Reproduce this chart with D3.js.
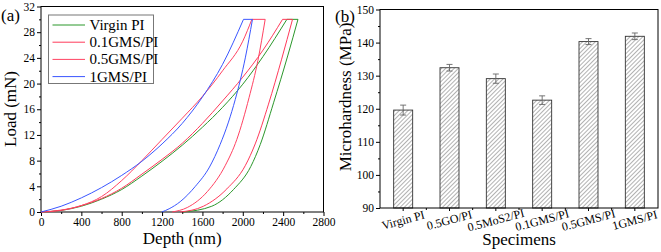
<!DOCTYPE html>
<html>
<head>
<meta charset="utf-8">
<script src="https://cdn.jsdelivr.net/npm/d3@7/dist/d3.min.js"></script>
<style>
body { margin: 0; background: #fff; }
text { font-family: "Liberation Serif", "Times New Roman", serif; fill: #000; }
</style>
</head>
<body>
<svg id="chart" width="661" height="252"></svg>
<script>
// ---- panel (a): load-depth curves, [depth nm, load mN]
var virginLoading = [[0,0],[200,0.25],[400,0.9],[600,2.0],[800,3.5],[1000,5.6],[1200,7.9],[1400,10.4],[1600,13.2],[1800,16.3],[2000,19.9],[2200,24.2],[2437,30]];
var virginHold = [[2437,30],[2547,30]];
var virginUnloading = [[1410,0],[1693,0.9],[1908,3.5],[2080,7.1],[2173,10.5],[2305,17.0],[2445,24.3],[2547,30]];

var gms01Loading = [[0,0],[200,0.25],[400,1.0],[600,2.1],[800,3.7],[1000,5.9],[1200,8.2],[1400,10.7],[1600,13.8],[1800,17.3],[2000,21.0],[2200,25.2],[2394,30]];
var gms01Hold = [[2394,30],[2493,30]];
var gms01Unloading = [[1380,0],[1610,0.9],[1842,3.6],[2024,7.2],[2123,10.6],[2255,16.8],[2385,23.8],[2493,30]];

var gms05Loading = [[0,0],[200,0.3],[400,1.0],[600,2.4],[800,4.9],[1000,8.0],[1200,11.3],[1400,14.6],[1600,18.0],[1800,22.0],[2000,26.6],[2090,30]];
var gms05Hold = [[2090,30],[2222,30]];
var gms05Unloading = [[1300,0],[1450,0.7],[1650,3.2],[1825,7.2],[1941,11.3],[2062,17.8],[2150,23.6],[2222,30]];

var gms1Loading = [[0,0],[200,0.9],[400,2.2],[600,3.8],[800,5.7],[1000,7.9],[1200,10.6],[1400,13.8],[1600,17.9],[1800,23.0],[2007,30]];
var gms1Hold = [[2007,30],[2096,30]];
var gms1Unloading = [[1197,0],[1270,0.5],[1379,1.6],[1530,4],[1670,7],[1775,10.5],[1858,14.0],[1925,17.5],[2025,24],[2096,30]];

var curveNames = ["Virgin PI", "0.1GMS/PI", "0.5GMS/PI", "1GMS/PI"];
var depthTicks = [0, 400, 800, 1200, 1600, 2000, 2400, 2800];
var loadTicks = [0, 4, 8, 12, 16, 20, 24, 28, 32];

// ---- panel (b): microhardness bars
var specimens = ["Virgin PI", "0.5GO/PI", "0.5MoS2/PI", "0.1GMS/PI", "0.5GMS/PI", "1GMS/PI"];
var hardness = [119.6, 132.4, 129.1, 122.6, 140.3, 141.9];
var hardnessErr = [1.5, 1.0, 1.4, 1.3, 0.9, 1.0];
var hardnessTicks = [90, 100, 110, 120, 130, 140, 150];

var FONT = "Liberation Serif";
var svg = d3.select("#chart");

var series = [
    {name: curveNames[0], color: "#2b972b", parts: [virginLoading, virginHold, virginUnloading]},
    {name: curveNames[1], color: "#ff3a5a", parts: [gms01Loading, gms01Hold, gms01Unloading]},
    {name: curveNames[2], color: "#ff4262", parts: [gms05Loading, gms05Hold, gms05Unloading]},
    {name: curveNames[3], color: "#3a56ff", parts: [gms1Loading, gms1Hold, gms1Unloading]}
];

function styleAxis(g) {
    g.attr("font-family", FONT);
    g.select(".domain").remove();
    g.selectAll("text").attr("font-size", 11.5).attr("fill", "#000").style("font-family", FONT);
}

// ===== panel (a)
var xA = d3.scaleLinear().domain([0, 2800]).range([41, 323.5]);
var yA = d3.scaleLinear().domain([0, 32]).range([212, 6.5]);

var gA = svg.append("g");

// minor ticks
gA.append("g")
    .attr("transform", "translate(0,212)")
    .call(d3.axisBottom(xA).tickValues(d3.range(200, 2800, 400)).tickSize(2).tickFormat(""))
    .call(styleAxis);
gA.append("g")
    .attr("transform", "translate(41,0)")
    .call(d3.axisLeft(yA).tickValues(d3.range(2, 32, 4)).tickSize(2).tickFormat(""))
    .call(styleAxis);

gA.append("g")
    .attr("transform", "translate(0,212)")
    .call(d3.axisBottom(xA).tickValues(depthTicks).tickSize(4).tickPadding(2).tickFormat(d3.format("d")))
    .call(styleAxis);

gA.append("g")
    .attr("transform", "translate(41,0)")
    .call(d3.axisLeft(yA).tickValues(loadTicks).tickSize(4).tickPadding(2))
    .call(styleAxis);

gA.append("rect")
    .attr("x", 41).attr("y", 6.5)
    .attr("width", 323.5 - 41).attr("height", 212 - 6.5)
    .attr("fill", "none").attr("stroke", "#000").attr("stroke-width", 1);

var lineA = d3.line()
    .x(function (d) { return xA(d[0]); })
    .y(function (d) { return yA(d[1]); })
    .curve(d3.curveMonotoneX);

series.forEach(function (s) {
    s.parts.forEach(function (p) {
        gA.append("path")
            .attr("d", lineA(p))
            .attr("fill", "none")
            .attr("stroke", s.color)
            .attr("stroke-width", 1);
    });
});

// legend
var leg = gA.append("g");
leg.append("rect")
    .attr("x", 48.5).attr("y", 15)
    .attr("width", 105).attr("height", 68.5)
    .attr("fill", "#fff").attr("stroke", "#777").attr("stroke-width", 1);
series.forEach(function (s, i) {
    var yy = 25 + i * 17.2;
    leg.append("line")
        .attr("x1", 52.5).attr("x2", 85)
        .attr("y1", yy).attr("y2", yy)
        .attr("stroke", s.color).attr("stroke-width", 1);
    leg.append("text")
        .attr("x", 89.5).attr("y", yy + 5)
        .attr("font-size", 15)
        .text(s.name);
});

gA.append("text")
    .attr("x", 1).attr("y", 21)
    .attr("font-size", 17)
    .text("(a)");
gA.append("text")
    .attr("x", xA(1400)).attr("y", 244)
    .attr("text-anchor", "middle")
    .attr("font-size", 17)
    .text("Depth (nm)");
gA.append("text")
    .attr("transform", "translate(16,109) rotate(-90)")
    .attr("text-anchor", "middle")
    .attr("font-size", 17)
    .text("Load (mN)");

// ===== panel (b)
var xB = d3.scaleBand().domain(specimens).range([380, 658]).paddingInner(0.59).paddingOuter(0.295);
var yB = d3.scaleLinear().domain([90, 150]).range([208, 9.5]);

var gB = svg.append("g");

var defs = svg.append("defs");
var pat = defs.append("pattern")
    .attr("id", "hatch")
    .attr("patternUnits", "userSpaceOnUse")
    .attr("width", 3).attr("height", 3)
    .attr("patternTransform", "rotate(45)");
pat.append("rect").attr("width", 3).attr("height", 3).attr("fill", "#fff");
pat.append("line")
    .attr("x1", 0).attr("y1", 0).attr("x2", 0).attr("y2", 3)
    .attr("stroke", "#666").attr("stroke-width", 1);

gB.append("g")
    .attr("transform", "translate(380,0)")
    .call(d3.axisLeft(yB).tickValues(d3.range(95, 150, 10)).tickSize(2).tickFormat(""))
    .call(styleAxis);

gB.append("g")
    .attr("transform", "translate(380,0)")
    .call(d3.axisLeft(yB).tickValues(hardnessTicks).tickSize(4).tickPadding(2))
    .call(styleAxis);

gB.append("g")
    .attr("transform", "translate(0,208)")
    .call(d3.axisBottom(xB).tickSize(3).tickFormat(""))
    .call(styleAxis);

// minor ticks between bars
gB.selectAll(".minorx")
    .data(specimens.slice(1))
    .enter()
    .append("line")
    .attr("x1", function (d) { return xB(d) - xB.step() * xB.paddingInner() / 2; })
    .attr("x2", function (d) { return xB(d) - xB.step() * xB.paddingInner() / 2; })
    .attr("y1", 208).attr("y2", 210)
    .attr("stroke", "#000");

gB.selectAll(".xlab")
    .data(specimens)
    .enter()
    .append("text")
    .attr("transform", function (d) {
        return "translate(" + (xB(d) + xB.bandwidth() / 2 + 1) + ",224) rotate(-15)";
    })
    .attr("text-anchor", "middle")
    .attr("font-size", 12)
    .text(function (d) { return d; });

gB.selectAll(".bar")
    .data(specimens)
    .enter()
    .append("rect")
    .attr("x", function (d) { return xB(d); })
    .attr("y", function (d, i) { return yB(hardness[i]); })
    .attr("width", xB.bandwidth())
    .attr("height", function (d, i) { return yB(90) - yB(hardness[i]); })
    .attr("fill", "url(#hatch)")
    .attr("stroke", "#333")
    .attr("stroke-width", 0.9);

var err = gB.selectAll(".err")
    .data(specimens)
    .enter()
    .append("g")
    .attr("stroke", "#666")
    .attr("stroke-width", 0.9);
err.append("line")
    .attr("x1", function (d) { return xB(d) + xB.bandwidth() / 2; })
    .attr("x2", function (d) { return xB(d) + xB.bandwidth() / 2; })
    .attr("y1", function (d, i) { return yB(hardness[i] - hardnessErr[i]); })
    .attr("y2", function (d, i) { return yB(hardness[i] + hardnessErr[i]); });
[1, -1].forEach(function (sgn) {
    err.append("line")
        .attr("x1", function (d) { return xB(d) + xB.bandwidth() / 2 - 3; })
        .attr("x2", function (d) { return xB(d) + xB.bandwidth() / 2 + 3; })
        .attr("y1", function (d, i) { return yB(hardness[i] + sgn * hardnessErr[i]); })
        .attr("y2", function (d, i) { return yB(hardness[i] + sgn * hardnessErr[i]); });
});

gB.append("rect")
    .attr("x", 380).attr("y", 9.5)
    .attr("width", 658 - 380).attr("height", 208 - 9.5)
    .attr("fill", "none").attr("stroke", "#000").attr("stroke-width", 1);

gB.append("text")
    .attr("x", 335).attr("y", 22)
    .attr("font-size", 17)
    .text("(b)");
gB.append("text")
    .attr("x", 519).attr("y", 245)
    .attr("text-anchor", "middle")
    .attr("font-size", 17)
    .text("Specimens");
gB.append("text")
    .attr("transform", "translate(351,97) rotate(-90)")
    .attr("text-anchor", "middle")
    .attr("font-size", 17)
    .text("Microhardness (MPa)");
</script>
</body>
</html>
